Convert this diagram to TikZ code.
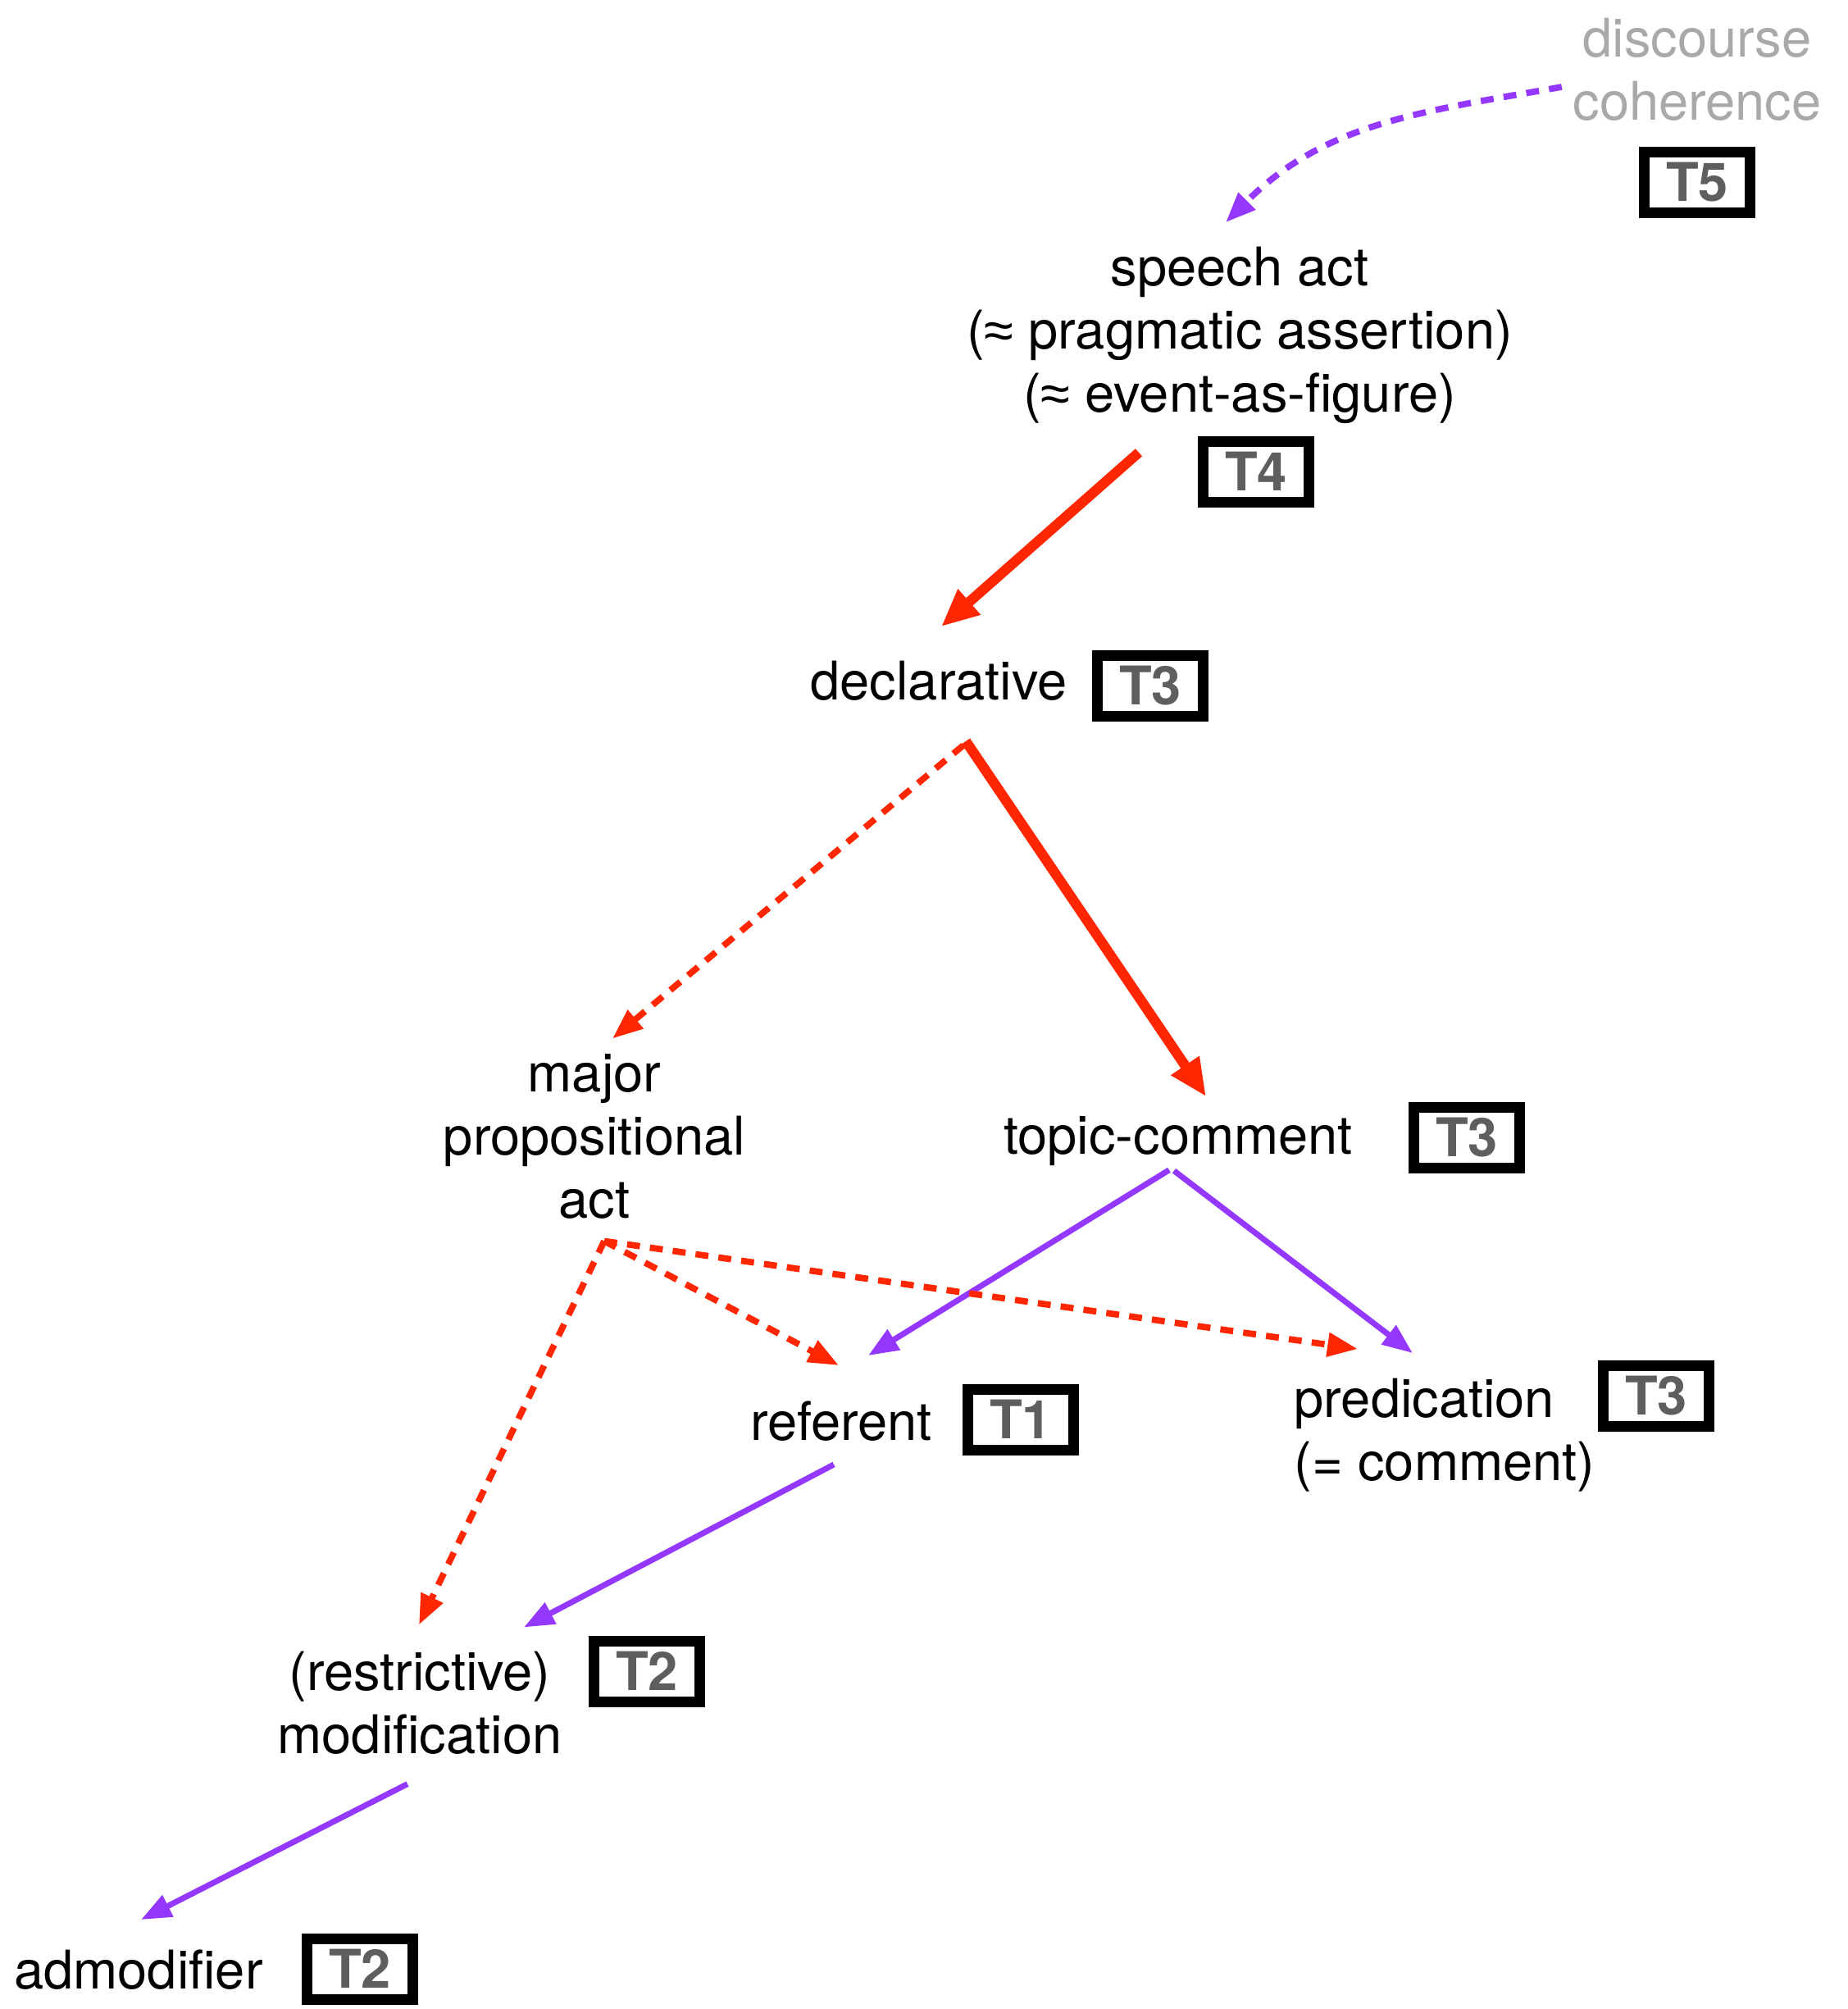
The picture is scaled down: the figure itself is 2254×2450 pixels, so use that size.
\documentclass[tikz,border=0pt]{standalone}
\usepackage{fontspec}
\setmainfont{TeX Gyre Heros}
\newfontfamily\symfont{Liberation Sans}
\usetikzlibrary{arrows.meta}
\definecolor{arrred}{HTML}{FF2600}
\definecolor{arrpurple}{HTML}{9437FF}
\definecolor{discgray}{HTML}{A9A9A9}
\definecolor{tgray}{HTML}{5E5E5E}
\newcommand{\apx}{{\symfont ≈}}
\tikzset{
  lbl/.style={inner sep=0pt, align=center, font=\fontsize{18.5}{22}\selectfont},
  tbox/.style={draw, line width=3.7pt, minimum width=12.9mm, minimum height=7.4mm,
    inner sep=0pt, text=tgray, font=\fontsize{18.5}{22}\selectfont\bfseries},
  redthick/.style={arrred, line width=3.5pt, -{Triangle[length=13pt,width=11pt]}},
  reddash/.style={arrred, line width=2.2pt, dash pattern=on 4.5pt off 3.5pt,
    -{Triangle[length=10.5pt,width=8pt]}},
  purp/.style={arrpurple, line width=2pt, -{Triangle[length=10.5pt,width=8pt]}},
  purpdash/.style={arrpurple, line width=2.2pt, dash pattern=on 4.5pt off 3.5pt,
    -{Triangle[length=10.5pt,width=8pt]}},
}
\begin{document}
\begin{tikzpicture}[x=0.1mm, y=-0.1mm]
    \useasboundingbox (0,0) rectangle (2254,2450);
    % constructions
    \node[lbl, text=discgray] (disc) at (2070,85) {discourse\\coherence};
    \node[lbl] (speech) at (1512,409) {speech act\\(\apx{} pragmatic assertion)\\(\apx{} event-as-figure)};
    \node[lbl] (decl) at (1145,830) {declarative};
    \node[lbl] (major) at (725,1386) {major\\propositional\\act};
    \node[lbl] (topic) at (1437,1392) {topic-comment};
    \node[lbl] (referent) at (1026,1733) {referent};
    \node[lbl, align=left, anchor=west] (pred) at (1578,1750) {predication\\(= comment)};
    \node[lbl] (modif) at (512,2077) {(restrictive)\\modification};
    \node[lbl] (admod) at (169,2402) {admodifier};
    % tiers
    \node[tbox] (t5) at (2070,222) {T5};
    \node[tbox] (t4) at (1532,575) {T4};
    \node[tbox] (t3decl) at (1403,836) {T3};
    \node[tbox] (t3topic) at (1789,1387) {T3};
    \node[tbox] (t1) at (1245,1731) {T1};
    \node[tbox] (t3pred) at (2020,1702) {T3};
    \node[tbox] (t2modif) at (789,2038) {T2};
    \node[tbox] (t2admod) at (439,2401) {T2};
    % links
    \draw[purpdash] ([xshift=-1.3mm,yshift=-2.1mm]disc.west) to[out=190,in=45]
        ([xshift=-1.7mm,yshift=2.9mm]speech.north);
    \draw[redthick] ([xshift=-12.3mm,yshift=-3.4mm]speech.south) -- ([xshift=0.3mm,yshift=4.1mm]decl.north);
    \draw[redthick] ([xshift=3.3mm,yshift=-4.9mm]decl.south) -- ([xshift=3.4mm,yshift=2.4mm]topic.north);
    \draw[reddash] ([xshift=3mm,yshift=-5.4mm]decl.south) -- ([xshift=2.2mm,yshift=1.8mm]major.north);
    \draw[purp] ([xshift=-1.1mm,yshift=-0.4mm]topic.south) -- ([xshift=3.3mm,yshift=5.5mm]referent.north);
    \draw[purp] ([xshift=-0.5mm,yshift=-0.5mm]topic.south) -- ([xshift=14.5mm,yshift=3mm]pred.north west);
    \coordinate (mp) at ([xshift=1.2mm,yshift=-2.6mm]major.south);
    \draw[reddash] (mp) -- ([xshift=-0.3mm,yshift=4.3mm]referent.north);
    \draw[reddash] (mp) -- ([xshift=7.8mm,yshift=3.5mm]pred.north west);
    \draw[reddash] (mp) -- ([xshift=-0.1mm,yshift=3.2mm]modif.north);
    \draw[purp] ([xshift=-0.9mm,yshift=-2.8mm]referent.south) -- ([xshift=12.7mm,yshift=2.9mm]modif.north);
    \draw[purp] ([xshift=-1.5mm,yshift=-3.5mm]modif.south) -- ([xshift=0.3mm,yshift=3.6mm]admod.north);
\end{tikzpicture}
\end{document}
